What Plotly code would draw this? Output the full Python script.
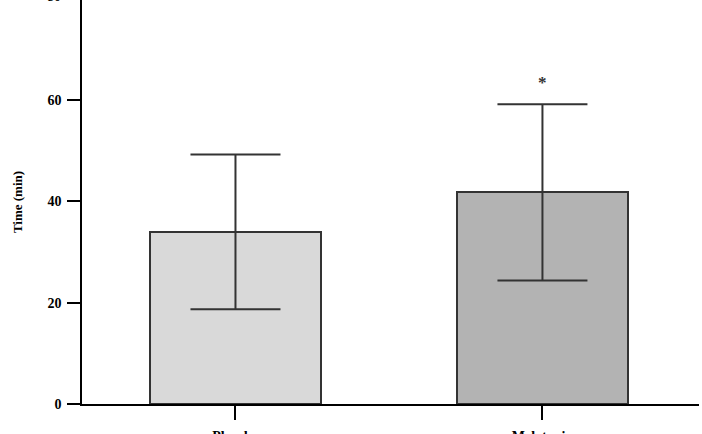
import plotly.graph_objects as go

categories = ["Placebo", "Melatonin"]
means = [34.0, 41.8]
sds = [15.3, 17.4]
fills = ["#d9d9d9", "#b3b3b3"]
y_ticks = [0, 20, 40, 60]
top_tick = 80
sig_label = "*"
sig_y = 63.5

FONT = "Liberation Serif"
xpos = list(range(len(categories)))

fig = go.Figure()
fig.add_trace(go.Bar(
    x=xpos, y=means, width=0.558,
    marker=dict(color=fills, line=dict(color="#333333", width=2)),
    error_y=dict(type="data", array=sds, visible=True, color="#333333", thickness=2, width=45),
    showlegend=False,
))

fig.add_annotation(x=1, y=sig_y, xref="x", yref="y", text="<b>" + sig_label + "</b>", showarrow=False,
                   font=dict(family=FONT, size=17, color="#333333"))
# top tick label (partially outside the page)
fig.add_annotation(x=0, y=1, xref="paper", yref="paper", text="<b>%d</b>" % top_tick, showarrow=False,
                   xanchor="right", yanchor="middle", xshift=-19, yshift=4,
                   font=dict(family=FONT, size=14, color="black"))

fig.update_layout(
    width=702, height=434,
    margin=dict(l=82, r=3, t=0, b=30),
    paper_bgcolor="white", plot_bgcolor="white",
    font=dict(family=FONT, size=13, color="black"),
    bargap=0,
)
fig.update_xaxes(
    range=[-0.5, 1.51], tickmode="array", tickvals=xpos,
    ticktext=["<b>%s</b>" % c for c in categories],
    showline=True, linecolor="black", linewidth=1.5,
    ticks="outside", ticklen=14, tickwidth=1.5, tickcolor="black",
    ticklabelstandoff=4, automargin=False,
    tickfont=dict(family=FONT, size=14, color="black"),
    showgrid=False, zeroline=False,
)
fig.update_yaxes(
    range=[0, 79.8], tickmode="array", tickvals=y_ticks,
    ticktext=["<b>%d</b>" % v for v in y_ticks],
    showline=True, linecolor="black", linewidth=1.5,
    ticks="outside", ticklen=13, tickwidth=1.5, tickcolor="black",
    ticklabelstandoff=3, automargin=False,
    tickfont=dict(family=FONT, size=14, color="black"),
    showgrid=False, zeroline=False,
    title=dict(text="<b>Time (min)</b>", font=dict(family=FONT, size=13, color="black"), standoff=22),
)

fig.write_html("out.html")
